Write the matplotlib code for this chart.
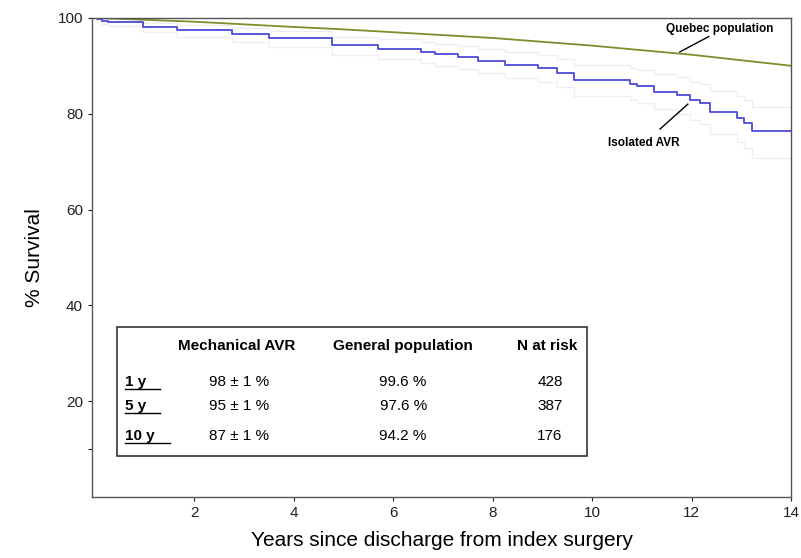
"""Kaplan-Meier survival after isolated mechanical AVR vs Quebec population."""

import matplotlib
matplotlib.use("Agg")
import matplotlib.pyplot as plt

plt.rcParams["font.family"] = ["Liberation Sans", "DejaVu Sans"]

# Kaplan-Meier steps (years, % survival)
km_years = [0.0, 0.05, 0.15, 0.26, 0.98, 1.66, 2.76, 3.5, 4.76, 5.7, 6.56, 6.84,
            7.3, 7.7, 8.24, 8.9, 9.3, 9.64, 10.76, 10.9, 11.24, 11.7, 11.96,
            12.16, 12.36, 12.9, 13.04, 13.2, 14.0]
km_surv = [100.0, 99.7, 99.4, 99.2, 98.1, 97.5, 96.6, 95.7, 94.3, 93.6, 92.9, 92.4,
           91.8, 91.1, 90.2, 89.5, 88.5, 87.0, 86.2, 85.8, 84.6, 83.9, 82.8,
           82.2, 80.4, 79.1, 78.0, 76.3, 76.3]
# faint confidence limits
ci_low = [100.0, 99.3, 98.8, 98.4, 97.0, 96.1, 95.0, 93.9, 92.3, 91.5, 90.6, 90.0,
          89.3, 88.5, 87.5, 86.6, 85.5, 83.8, 82.8, 82.3, 80.9, 80.0, 78.7,
          77.9, 75.8, 74.2, 72.8, 70.8, 70.8]
ci_high = [100.0, 100.0, 99.9, 99.8, 99.0, 98.6, 97.9, 97.3, 96.1, 95.5, 95.0, 94.6,
           94.1, 93.6, 92.8, 92.3, 91.4, 90.1, 89.5, 89.2, 88.2, 87.6, 86.7,
           86.2, 84.7, 83.7, 82.9, 81.5, 81.5]

# expected survival of the general population
pop_years = [0, 1, 2, 4, 5, 6, 8, 10, 12, 14]
pop_surv = [100.0, 99.6, 99.2, 98.1, 97.6, 97.0, 95.8, 94.2, 92.3, 90.0]

table_cols = ["Mechanical AVR", "General population", "N at risk"]
table_rows = ["1 y", "5 y", "10 y"]
table_avr = ["98 ± 1 %", "95 ± 1 %", "87 ± 1 %"]
table_pop = ["99.6 %", "97.6 %", "94.2 %"]
table_risk = ["428", "387", "176"]

fig = plt.figure(figsize=(8.01, 5.58), dpi=100)
ax = fig.add_axes([0.115, 0.109, 0.873, 0.859])

ax.step(km_years, ci_low, where="post", color="#ededf3", lw=0.9)
ax.step(km_years, ci_high, where="post", color="#ededf3", lw=0.9)
ax.step(km_years, km_surv, where="post", color="#4a4ad8", lw=1.3)
ax.plot(pop_years, pop_surv, color="#7f8c2c", lw=1.3)

ax.set_xlim(-0.05, 14)
ax.set_ylim(0, 100)
ax.set_xticks([2, 4, 6, 8, 10, 12, 14])
ax.set_yticks([20, 40, 60, 80, 100])
ax.set_yticks([10], minor=True)
ax.tick_params(axis="both", which="both", direction="out", length=3, width=0.8,
               labelsize=11, colors="#222222")
for s in ax.spines.values():
    s.set_color("#555555")
    s.set_linewidth(1.0)
ax.set_ylabel("% Survival", fontsize=15, labelpad=10)
ax.set_xlabel("Years since discharge from index surgery", fontsize=15, labelpad=8)

# curve labels
ax.plot([11.76, 12.34], [92.9, 96.1], color="black", lw=1.0)
ax.text(12.56, 97.7, "Quebec population", fontsize=8.5, fontweight="bold",
        ha="center", va="center")
ax.plot([11.92, 11.36], [82.0, 76.8], color="black", lw=1.0)
ax.text(11.04, 73.8, "Isolated AVR", fontsize=8.5, fontweight="bold",
        ha="center", va="center")

# inset table
ax.add_patch(plt.Rectangle((0.46, 8.5), 9.44, 27.0, fill=False, ec="#222222", lw=1.1))
col_x = [2.85, 6.2, 9.1]
for x, name in zip(col_x, table_cols):
    ax.text(x, 31.5, name, fontsize=11, fontweight="bold", ha="center", va="center")
row_y = [24.0, 19.0, 12.7]
for y, lab, a, p, r in zip(row_y, table_rows, table_avr, table_pop, table_risk):
    ax.text(0.62, y, lab, fontsize=11, fontweight="bold", ha="left", va="center")
    ax.plot([0.62, 0.62 + 0.2 * len(lab) + 0.1], [y - 1.5, y - 1.5], color="black", lw=1.0)
    ax.text(2.9, y, a, fontsize=11, ha="center", va="center")
    ax.text(6.2, y, p, fontsize=11, ha="center", va="center")
    ax.text(9.15, y, r, fontsize=11, ha="center", va="center")

fig.savefig("out.png", dpi=100)
